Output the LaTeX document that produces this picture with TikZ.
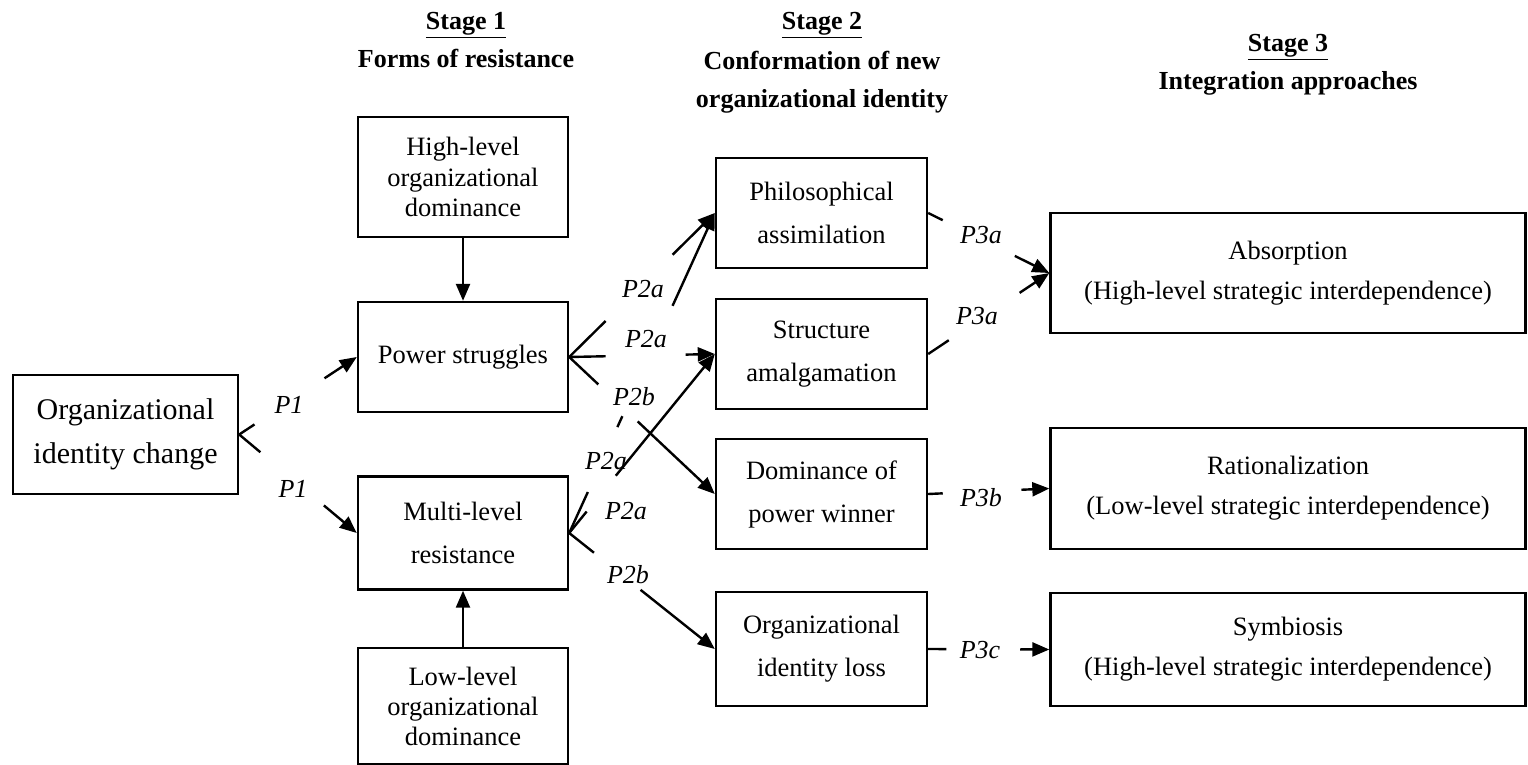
\documentclass[tikz,border=0pt]{standalone}
\usepackage{fontspec}
\setmainfont{Liberation Serif}
\usetikzlibrary{arrows.meta,calc}
\begin{document}
\begin{tikzpicture}[x=1pt,y=-1pt,
  box/.style={draw, line width=2.4pt, align=center, inner sep=0pt},
  txt/.style={font=\fontsize{26.5}{43}\selectfont},
  lbl/.style={font=\fontsize{26}{30}\selectfont\itshape, inner sep=0pt},
  conn/.style={line width=2.4pt},
  arr/.style={line width=2.4pt, -{Triangle[length=17pt,width=14pt]}},
  title/.style={font=\fontsize{26}{38}\selectfont\bfseries, inner sep=0pt}]
\useasboundingbox (0,0) rectangle (1528,765);
% titles
\node[title, anchor=base] (s1a) at (466,30) {\underline{Stage 1}};
\node[title, anchor=base] (s1b) at (466,68) {Forms of resistance};
\node[title, anchor=base] (s2a) at (822,30) {\underline{Stage 2}};
\node[title, anchor=base] (s2b) at (822,70) {Conformation of new};
\node[title, anchor=base] (s2c) at (822,108) {organizational identity};
\node[title, anchor=base] (s3a) at (1288,52) {\underline{Stage 3}};
\node[title, anchor=base] (s3b) at (1288,90) {Integration approaches};
% boxes
\node[box, minimum width=225pt, minimum height=119pt, font=\fontsize{30}{44}\selectfont] (oic) at (125.5,434.5) {Organizational\\identity change};
\node[box, minimum width=210pt, minimum height=120pt, font=\fontsize{26.5}{30.5}\selectfont] (high) at (463,177) {High-level\\organizational\\dominance};
\node[box, txt, minimum width=210pt, minimum height=110pt] (power) at (463,357) {Power struggles};
\node[box, txt, minimum width=210pt, minimum height=113pt] (multi) at (463,533) {Multi-level\\resistance};
\node[box, minimum width=210pt, minimum height=116pt, font=\fontsize{26.5}{30}\selectfont] (low) at (463,706) {Low-level\\organizational\\dominance};
\node[box, txt, minimum width=211pt, minimum height=110pt] (phil) at (821.5,213) {Philosophical\\assimilation};
\node[box, txt, minimum width=211pt, minimum height=110pt] (struct) at (821.5,354) {Structure\\amalgamation};
\node[box, txt, minimum width=211pt, minimum height=110pt] (dom) at (821.5,494) {Dominance of\\power winner};
\node[box, txt, minimum width=211pt, minimum height=114pt] (oil) at (821.5,649) {Organizational\\identity loss};
\node[box, minimum width=475pt, minimum height=120pt, font=\fontsize{26.5}{40}\selectfont] (abs) at (1288,273) {Absorption\\(High-level strategic interdependence)};
\node[box, minimum width=475pt, minimum height=121pt, font=\fontsize{26.5}{40}\selectfont] (rat) at (1288,488.5) {Rationalization\\(Low-level strategic interdependence)};
\node[box, minimum width=475pt, minimum height=113pt, font=\fontsize{26.5}{40}\selectfont] (sym) at (1288,649.5) {Symbiosis\\(High-level strategic interdependence)};
% labels
\node[lbl] (l1) at (289,405) {P1};
\node[lbl] (l2) at (293,489) {P1};
\node[lbl] (l3) at (643,289) {P2a};
\node[lbl] (l4) at (646,339) {P2a};
\node[lbl] (l5) at (634,397) {P2b};
\node[lbl] (l6) at (606,461) {P2a};
\node[lbl] (l7) at (626,511) {P2a};
\node[lbl] (l8) at (628,575) {P2b};
\node[lbl] (l9) at (981,235) {P3a};
\node[lbl] (l10) at (977,316) {P3a};
\node[lbl] (l11) at (981,498) {P3b};
\node[lbl] (l12) at (980,650) {P3c};
% vertical arrows
\draw[arr] (high.south) -- (power.north);
\draw[arr] (low.north) -- (multi.south);
% stage 0 -> 1
\draw[conn] (oic.east) -- ($(oic.east)!0.13!(power.west)$);
\draw[arr] ($(oic.east)!0.725!(power.west)$) -- (power.west);
\draw[conn] (oic.east) -- ($(oic.east)!0.18!(multi.west)$);
\draw[arr] ($(oic.east)!0.72!(multi.west)$) -- (multi.west);
% stage 1 -> 2
\draw[conn] (power.east) -- ($(power.east)!0.25!(phil.west)$);
\draw[arr] ($(power.east)!0.71!(phil.west)$) -- (phil.west);
\draw[conn] (power.east) -- ($(power.east)!0.25!(struct.west)$);
\draw[arr] ($(power.east)!0.8!(struct.west)$) -- (struct.west);
\draw[conn] (power.east) -- ($(power.east)!0.2!(dom.west)$);
\draw[arr] ($(power.east)!0.47!(dom.west)$) -- (dom.west);
\draw[conn] (multi.east) -- ($(multi.east)!0.128!(phil.west)$);
\draw[conn] ($(multi.east)!0.331!(phil.west)$) -- ($(multi.east)!0.365!(phil.west)$);
\draw[arr] ($(multi.east)!0.71!(phil.west)$) -- (phil.west);
\draw[conn] (multi.east) -- ($(multi.east)!0.12!(struct.west)$);
\draw[arr] ($(multi.east)!0.32!(struct.west)$) -- (struct.west);
\draw[conn] (multi.east) -- ($(multi.east)!0.17!(oil.west)$);
\draw[arr] ($(multi.east)!0.49!(oil.west)$) -- (oil.west);
% stage 2 -> 3
\draw[conn] (phil.east) -- ($(phil.east)!0.12!(abs.west)$);
\draw[arr] ($(phil.east)!0.715!(abs.west)$) -- (abs.west);
\draw[conn] (struct.east) -- ($(struct.east)!0.17!(abs.west)$);
\draw[arr] ($(struct.east)!0.755!(abs.west)$) -- (abs.west);
\draw[conn] (dom.east) -- ($(dom.east)!0.12!(rat.west)$);
\draw[arr] ($(dom.east)!0.77!(rat.west)$) -- (rat.west);
\draw[conn] (oil.east) -- ($(oil.east)!0.15!(sym.west)$);
\draw[arr] ($(oil.east)!0.76!(sym.west)$) -- (sym.west);
\end{tikzpicture}
\end{document}
